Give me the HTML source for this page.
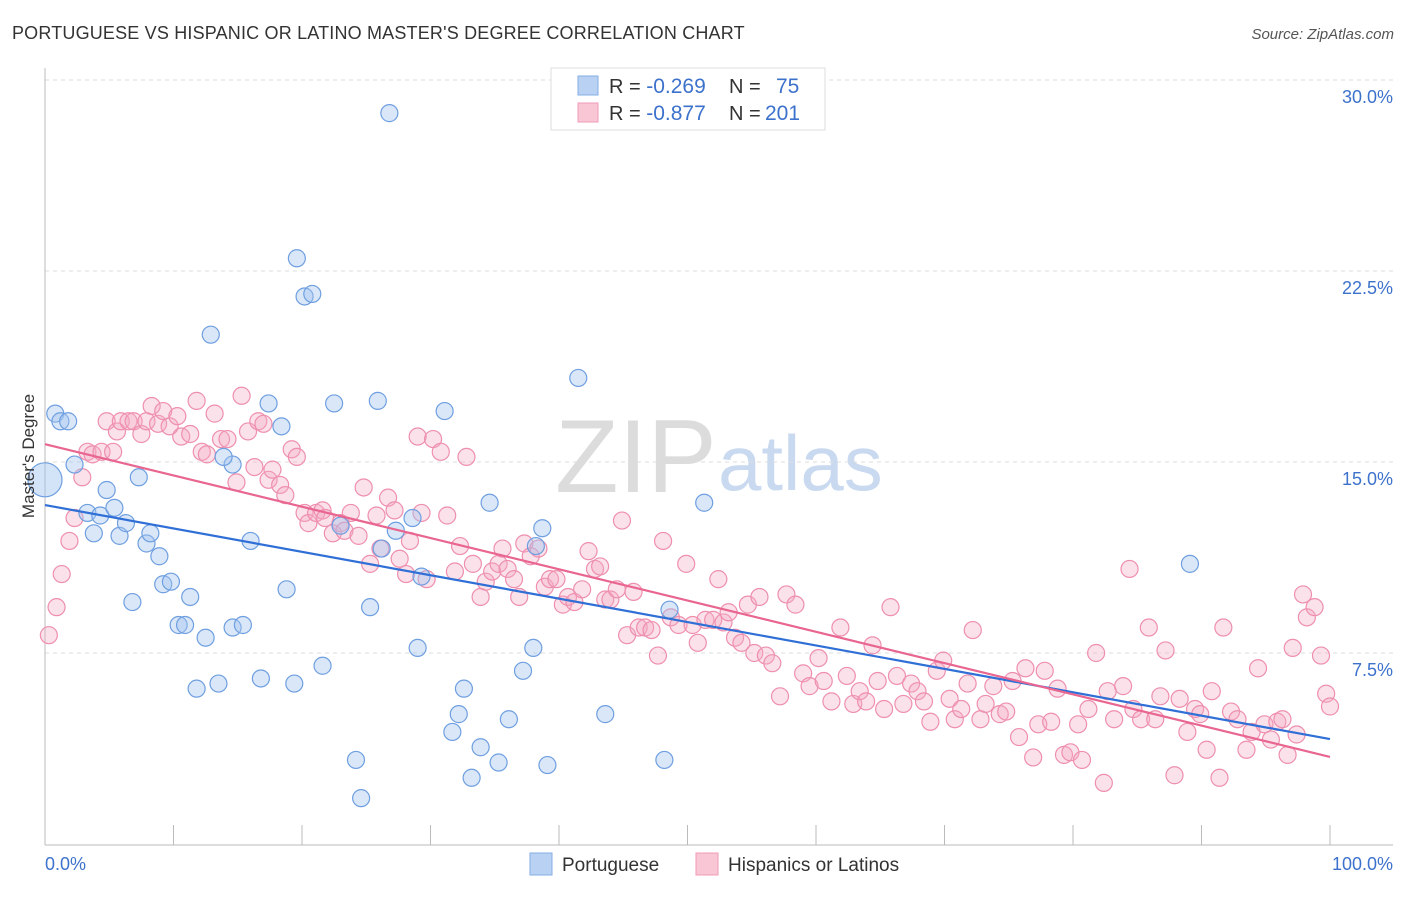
<!DOCTYPE html>
<html><head><meta charset="utf-8"><style>
body{margin:0;background:#fff;font-family:"Liberation Sans",sans-serif}
svg text{font-family:"Liberation Sans",sans-serif}
</style></head><body>
<svg id="chart" width="1406" height="892" viewBox="0 0 1406 892">
<text x="12" y="39" font-size="18" letter-spacing="0.18" fill="#333">PORTUGUESE VS HISPANIC OR LATINO MASTER'S DEGREE CORRELATION CHART</text>
<text x="1394" y="39" font-size="15" fill="#555" font-style="italic" text-anchor="end">Source: ZipAtlas.com</text>
<g>
<text x="555" y="492" font-size="104" fill="#dcdcdc" font-family="Liberation Serif">ZIP</text>
<text x="718" y="490" font-size="78" fill="#c9daf0">atlas</text>
</g>
<g id="grid"></g>
<g id="axes"></g>
<g id="pts"></g>
<g id="trend"></g>
<text transform="translate(34,456) rotate(-90)" font-size="17" fill="#333" text-anchor="middle">Master's Degree</text>
<text x="45" y="870" font-size="18" fill="#3d72cc">0.0%</text>
<text x="1393" y="870" font-size="18" fill="#3d72cc" text-anchor="end">100.0%</text>
<g>
<rect x="551" y="68" width="274" height="62" fill="#fff" stroke="#ddd"/>
<rect x="578" y="76" width="20" height="19" fill="#b9d2f3" stroke="#86aee6"/>
<rect x="578" y="103" width="20" height="19" fill="#f8c6d4" stroke="#f09ab5"/>
<text x="609" y="93" font-size="20" fill="#333">R = <tspan fill="#3d72cc" font-size="21">-0.269</tspan><tspan x="729">N = </tspan><tspan x="776" fill="#3d72cc" font-size="21">75</tspan></text>
<text x="609" y="120" font-size="20" fill="#333">R = <tspan fill="#3d72cc" font-size="21">-0.877</tspan><tspan x="729">N = </tspan><tspan x="765" fill="#3d72cc" font-size="21">201</tspan></text>
</g>
<g>
<rect x="530" y="853" width="22" height="22" fill="#b9d2f3" stroke="#86aee6"/>
<text x="562" y="871" font-size="19" fill="#333">Portuguese</text>
<rect x="696" y="853" width="22" height="22" fill="#f8c6d4" stroke="#f09ab5"/>
<text x="728" y="871" font-size="19" fill="#333">Hispanics or Latinos</text>
</g>
</svg>
<script>
const yTicks=[7.5,15,22.5,30];
const yTickLabels=["7.5%","15.0%","22.5%","30.0%"];
const blueX=[0.8,1.2,1.8,2.3,3.3,3.8,4.3,4.8,5.4,5.8,6.3,7.3,7.9,8.2,8.9,9.2,9.8,10.4,10.9,11.3,6.8,12.5,12.9,11.8,13.5,14.6,15.4,14.6,13.9,16.0,16.8,17.4,18.4,18.8,19.4,19.6,20.2,20.8,21.6,22.5,23.0,24.2,24.6,25.3,25.9,26.2,27.3,28.6,29.0,29.3,31.1,31.7,32.2,32.6,33.2,33.9,34.6,35.3,36.1,37.2,38.0,38.2,38.7,39.1,41.5,43.6,48.2,48.6,51.3,89.1,26.8];
const blueY=[16.9,16.6,16.6,14.9,13.0,12.2,12.9,13.9,13.2,12.1,12.6,14.4,11.8,12.2,11.3,10.2,10.3,8.6,8.6,9.7,9.5,8.1,20.0,6.1,6.3,8.5,8.6,14.9,15.2,11.9,6.5,17.3,16.4,10.0,6.3,23.0,21.5,21.6,7.0,17.3,12.5,3.3,1.8,9.3,17.4,11.6,12.3,12.8,7.7,10.5,17.0,4.4,5.1,6.1,2.6,3.8,13.4,3.2,4.9,6.8,7.7,11.7,12.4,3.1,18.3,5.1,3.3,9.2,13.4,11.0,28.7];
const pinkX=[0.3,0.9,1.3,1.9,2.3,2.9,3.3,3.7,4.4,4.8,5.3,5.6,5.9,6.5,6.9,7.5,7.9,8.3,8.8,9.2,9.7,10.3,10.6,11.3,11.8,12.2,12.6,13.2,13.7,14.2,14.9,15.3,15.8,16.3,16.6,17.0,17.4,17.7,18.3,18.7,19.2,19.6,20.2,20.5,21.1,21.6,21.8,22.4,23.0,23.3,23.8,24.4,24.8,25.3,25.8,26.1,26.7,27.2,27.6,28.1,28.4,29.0,29.3,29.7,30.2,30.8,31.3,31.9,32.3,32.8,33.3,33.9,34.3,34.8,35.3,35.6,36.0,36.5,36.9,37.3,37.8,38.4,38.9,39.3,39.8,40.3,40.7,41.2,41.8,42.3,42.8,43.2,43.6,44.0,44.5,44.9,45.3,45.8,46.2,46.7,47.2,47.7,48.1,48.7,49.3,49.9,50.4,50.8,51.4,52.0,52.4,52.8,53.2,53.7,54.2,54.7,55.2,55.6,56.1,56.6,57.2,57.7,58.4,59.0,59.5,60.2,60.6,61.2,61.9,62.4,62.9,63.4,63.9,64.4,64.8,65.3,65.8,66.3,66.8,67.4,67.9,68.4,68.9,69.4,69.9,70.4,70.8,71.3,71.8,72.2,72.8,73.2,73.8,74.3,74.8,75.3,75.8,76.3,76.9,77.3,77.8,78.3,78.8,79.3,79.8,80.4,80.7,81.2,81.8,82.4,82.7,83.2,83.9,84.4,84.7,85.3,85.9,86.4,86.8,87.2,87.9,88.3,88.9,89.5,89.9,90.4,90.8,91.4,91.7,92.3,92.8,93.5,93.9,94.4,94.9,95.4,95.9,96.3,96.7,97.1,97.4,97.9,98.2,98.8,99.3,99.7,100];
const pinkY=[8.2,9.3,10.6,11.9,12.8,14.4,15.4,15.3,15.4,16.6,15.4,16.2,16.6,16.6,16.6,16.1,16.6,17.2,16.5,17.0,16.4,16.8,16.0,16.1,17.4,15.4,15.3,16.9,15.9,15.9,14.2,17.6,16.2,14.8,16.6,16.5,14.3,14.7,14.1,13.7,15.5,15.2,13.0,12.6,13.0,13.1,12.8,12.2,12.6,12.3,13.0,12.1,14.0,11.0,12.9,11.6,13.6,13.1,11.2,10.6,11.9,16.0,13.0,10.4,15.9,15.4,12.9,10.7,11.7,15.2,11.0,9.7,10.3,10.7,11.0,11.6,10.8,10.4,9.7,11.8,11.3,11.6,10.1,10.4,10.4,9.4,9.7,9.5,10.0,11.5,10.8,10.9,9.6,9.6,10.0,12.7,8.2,9.9,8.5,8.5,8.4,7.4,11.9,8.9,8.6,11.0,8.6,7.9,8.8,8.8,10.4,8.7,9.1,8.1,7.9,9.4,7.5,9.7,7.4,7.1,5.8,9.8,9.4,6.7,6.2,7.3,6.4,5.6,8.5,6.6,5.5,6.0,5.6,7.8,6.4,5.3,9.3,6.6,5.5,6.3,6.0,5.6,4.8,6.8,7.2,5.7,4.9,5.3,6.3,8.4,4.9,5.5,6.2,5.1,5.2,6.4,4.2,6.9,3.4,4.7,6.8,4.8,6.1,3.5,3.6,4.7,3.3,5.3,7.5,2.4,6.0,4.9,6.2,10.8,5.3,4.9,8.5,4.9,5.8,7.6,2.7,5.7,4.4,5.3,5.1,3.7,6.0,2.6,8.5,5.2,4.9,3.7,4.4,6.9,4.7,4.1,4.8,4.9,3.5,7.7,4.3,9.8,8.9,9.3,7.4,5.9,5.4];
const blueTrend=[13.31,4.12];
const pinkTrend=[15.70,3.42];

const X0=45,X1=1330,Y0=844,PXPER=191/7.5;
const xs=v=>X0+(X1-X0)*v/100;
const ys=v=>Y0-v*PXPER;
const NS="http://www.w3.org/2000/svg";
function mk(tag,attrs,parent){const e=document.createElementNS(NS,tag);for(const k in attrs)e.setAttribute(k,attrs[k]);parent.appendChild(e);return e;}
const grid=document.getElementById('grid'),axes=document.getElementById('axes'),pts=document.getElementById('pts'),trend=document.getElementById('trend');
yTicks.forEach((t,i)=>{
  const l=mk('line',{x1:45,x2:1393,y1:ys(t),y2:ys(t),stroke:'#ddd','stroke-dasharray':'4,4'},grid);
  
  
  const tx=mk('text',{x:1393,y:ys(t)+23,'font-size':18,fill:'#3d72cc','text-anchor':'end'},grid);
  tx.textContent=yTickLabels[i];
  
  
});
const ax=mk('line',{x1:45,x2:1393,y1:845,y2:845,stroke:'#bbb'},axes);


const ay=mk('line',{x1:45,x2:45,y1:68,y2:845,stroke:'#bbb'},axes);


for(let k=0;k<=10;k++){
  const t=mk('line',{x1:xs(k*10),x2:xs(k*10),y1:825,y2:845,stroke:'#bbb'},axes);
  
  
}
pinkX.forEach((x,i)=>{
  const c=mk('circle',{cx:xs(x),cy:ys(pinkY[i]),r:8.5,fill:'rgba(244,170,195,0.35)',stroke:'#ee8fae','stroke-width':1.2},pts);
  
  
});
blueX.forEach((x,i)=>{
  const c=mk('circle',{cx:xs(x),cy:ys(blueY[i]),r:8.5,fill:'rgba(160,195,240,0.4)',stroke:'#6f9fe0','stroke-width':1.2},pts);
  
  
});
const big=mk('circle',{cx:xs(0),cy:ys(14.3),r:17,fill:'rgba(160,195,240,0.45)',stroke:'#6f9fe0','stroke-width':1.2},pts);


const bt=mk('line',{x1:xs(0),y1:ys(blueTrend[0]),x2:xs(100),y2:ys(blueTrend[1]),stroke:'#2f6fd6','stroke-width':2.2},trend);


const pt=mk('line',{x1:xs(0),y1:ys(pinkTrend[0]),x2:xs(100),y2:ys(pinkTrend[1]),stroke:'#e8668f','stroke-width':2.2},trend);


</script>
</body></html>
